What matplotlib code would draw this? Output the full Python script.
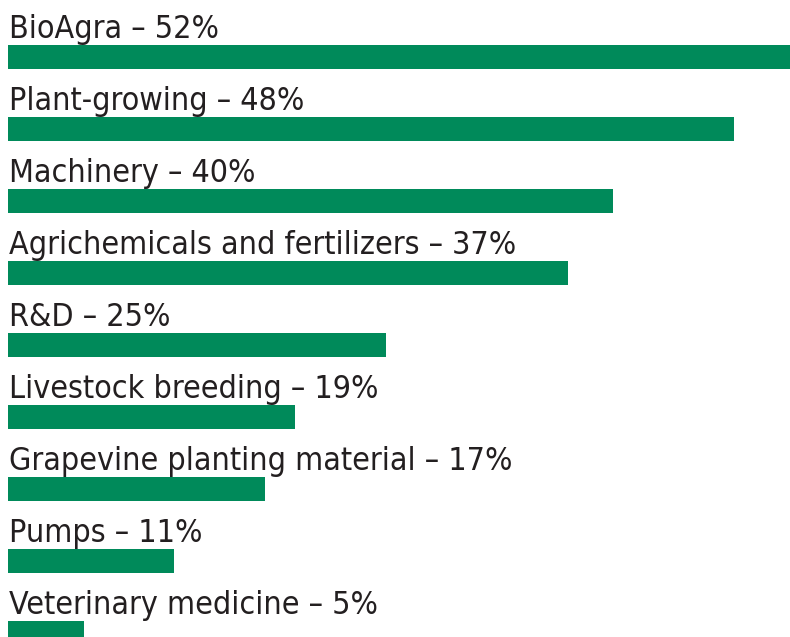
import matplotlib.pyplot as plt

labels = ["BioAgra", "Plant-growing", "Machinery", "Agrichemicals and fertilizers",
          "R&D", "Livestock breeding", "Grapevine planting material", "Pumps",
          "Veterinary medicine"]
values = [52, 48, 40, 37, 25, 19, 17, 11, 5]

green = "#008A5A"
plt.rcParams['font.family'] = ['DejaVu Sans']

fig = plt.figure(figsize=(7.9, 6.37), dpi=100)
ax = fig.add_axes([0, 0, 1, 1])

pos = list(range(len(values)))
h = 0.32
ax.barh(pos, values, height=h, color=green, left=0)

for i, (lab, v) in enumerate(zip(labels, values)):
    ax.annotate(f"{lab} \u2013 {v}%", xy=(0, i - h / 2), xytext=(1.0, 5.5),
                textcoords='offset points', va='baseline', ha='left',
                fontsize=23, fontstretch='condensed', color='#231F20')

# pixel scale: ~15.13 px per percent, bars start 8 px from left
px = 15.13
ax.set_xlim(-8 / px, 782 / px)
ax.set_ylim((637 - 57) / 72, -57 / 72)
ax.axis('off')

fig.savefig("out.png", dpi=100)
